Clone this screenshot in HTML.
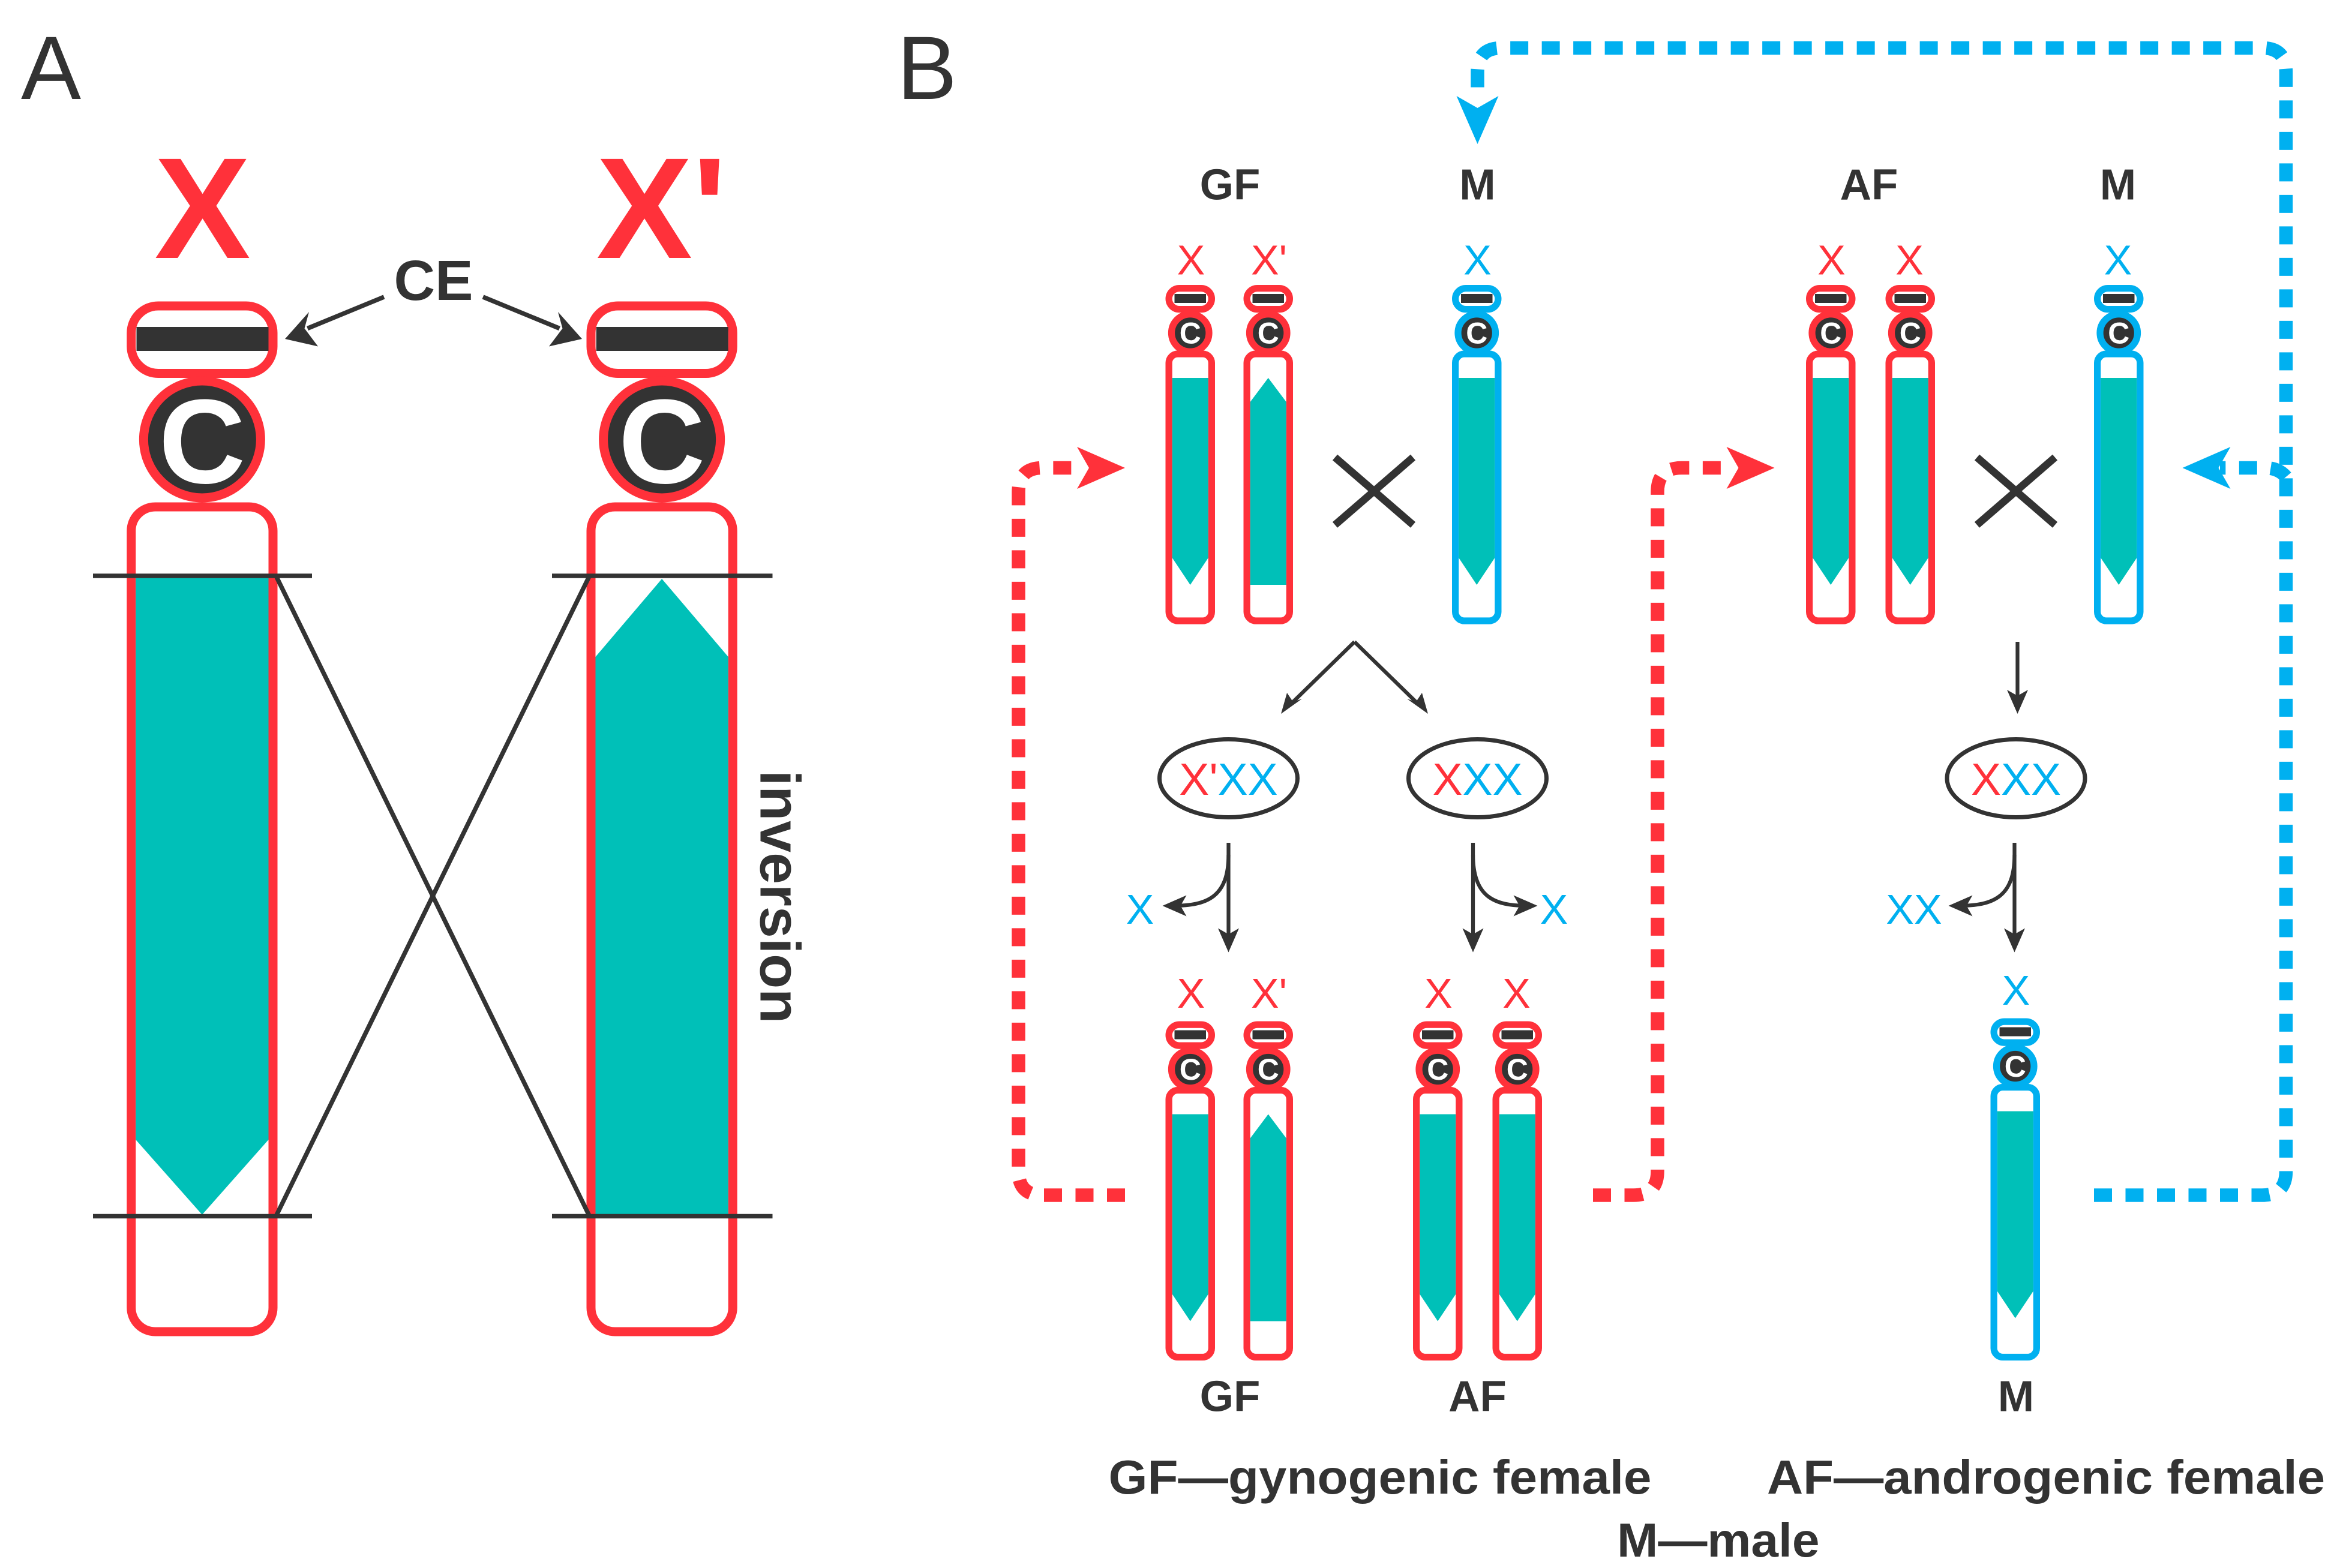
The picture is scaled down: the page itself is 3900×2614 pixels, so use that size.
<!DOCTYPE html>
<html><head><meta charset="utf-8"><style>
html,body{margin:0;padding:0;background:#fff;}
svg{display:block;}
text{font-family:"Liberation Sans",Arial,sans-serif;}
</style></head><body>
<svg width="3900" height="2614" viewBox="0 0 1560 1045.6" xmlns="http://www.w3.org/2000/svg">
<rect width="1560" height="1046" fill="#fff"/>
<!-- Panel labels -->
<text x="14" y="66" font-size="60" fill="#333">A</text>
<text x="598" y="66" font-size="60" fill="#333">B</text>

<!-- ===== Panel A ===== -->
<text x="135" y="172" font-size="96" font-weight="bold" fill="#FF313A" text-anchor="middle">X</text>
<text x="441" y="172" font-size="96" font-weight="bold" fill="#FF313A" text-anchor="middle">X'</text>
<text x="289" y="200" font-size="38" font-weight="bold" fill="#333" text-anchor="middle">CE</text>
<line x1="256" y1="198" x2="205" y2="219" stroke="#333" stroke-width="3"/>
<path d="M190,226 L206,208 L203,219 L212,231 Z" fill="#333"/>
<line x1="322" y1="198" x2="373" y2="219" stroke="#333" stroke-width="3"/>
<path d="M388,226 L372,208 L375,219 L366,231 Z" fill="#333"/>

<!-- big X -->
<rect x="87.5" y="204" width="94.5" height="45" rx="18" fill="#fff" stroke="#FF313A" stroke-width="6"/>
<rect x="91" y="218" width="88" height="16" fill="#333"/>
<rect x="87.5" y="338" width="94.5" height="550" rx="16" fill="#fff" stroke="#FF313A" stroke-width="6"/>
<polygon points="90.5,384 179,384 179,760 134.75,810 90.5,760" fill="#00C0B8"/>
<circle cx="134.75" cy="293" r="39" fill="#333" stroke="#FF313A" stroke-width="6"/>
<text x="134.75" y="322" font-size="80" font-weight="bold" fill="#fff" text-anchor="middle">C</text>
<!-- big X' -->
<rect x="394" y="204" width="94.5" height="45" rx="18" fill="#fff" stroke="#FF313A" stroke-width="6"/>
<rect x="397.5" y="218" width="88" height="16" fill="#333"/>
<rect x="394" y="338" width="94.5" height="550" rx="16" fill="#fff" stroke="#FF313A" stroke-width="6"/>
<polygon points="397,438 441.25,386 485.5,438 485.5,811 397,811" fill="#00C0B8"/>
<circle cx="441.25" cy="293" r="39" fill="#333" stroke="#FF313A" stroke-width="6"/>
<text x="441.25" y="322" font-size="80" font-weight="bold" fill="#fff" text-anchor="middle">C</text>
<!-- inversion lines -->
<g stroke="#333" stroke-width="3">
<line x1="62" y1="384" x2="208" y2="384"/>
<line x1="62" y1="811" x2="208" y2="811"/>
<line x1="368" y1="384" x2="515" y2="384"/>
<line x1="368" y1="811" x2="515" y2="811"/>
<line x1="184" y1="384" x2="393" y2="811"/>
<line x1="393" y1="384" x2="184" y2="811"/>
</g>
<text transform="translate(507,598) rotate(90)" font-size="38" font-weight="bold" fill="#333" text-anchor="middle">inversion</text>

<!-- ===== Panel B ===== -->
<g font-weight="bold" fill="#333" font-size="29" text-anchor="middle">
<text x="820" y="133">GF</text><text x="985" y="133">M</text>
<text x="1246" y="133">AF</text><text x="1412" y="133">M</text>
<text x="820" y="941">GF</text><text x="985" y="941">AF</text><text x="1344" y="941">M</text>
</g>
<g font-size="28" text-anchor="middle">
<text x="794" y="183" fill="#FF313A">X</text><text x="846" y="183" fill="#FF313A">X'</text>
<text x="985" y="183" fill="#00B0F0">X</text>
<text x="1221" y="183" fill="#FF313A">X</text><text x="1273" y="183" fill="#FF313A">X</text>
<text x="1412" y="183" fill="#00B0F0">X</text>
<text x="794" y="672" fill="#FF313A">X</text><text x="846" y="672" fill="#FF313A">X'</text>
<text x="959" y="672" fill="#FF313A">X</text><text x="1011" y="672" fill="#FF313A">X</text>
<text x="1344" y="670" fill="#00B0F0">X</text>
</g>

<!-- small chromosomes -->
<!-- template: cap, body, teal, circle -->
<g transform="translate(777,190)">
<rect x="2.25" y="2.25" width="28.5" height="14" rx="7" fill="#fff" stroke="#FF313A" stroke-width="4.5"/><rect x="6" y="6" width="21" height="6" fill="#333"/>
<rect x="2.25" y="46" width="28.5" height="178" rx="6" fill="#fff" stroke="#FF313A" stroke-width="4.5"/>
<polygon points="4.5,62 28.5,62 28.5,182 16.5,200 4.5,182" fill="#00C0B8"/>
<circle cx="16.5" cy="32" r="12.5" fill="#333" stroke="#FF313A" stroke-width="4.5"/><text x="16.5" y="39" font-size="20" font-weight="bold" fill="#fff" text-anchor="middle">C</text></g>
<g transform="translate(829,190)">
<rect x="2.25" y="2.25" width="28.5" height="14" rx="7" fill="#fff" stroke="#FF313A" stroke-width="4.5"/><rect x="6" y="6" width="21" height="6" fill="#333"/>
<rect x="2.25" y="46" width="28.5" height="178" rx="6" fill="#fff" stroke="#FF313A" stroke-width="4.5"/>
<polygon points="4.5,78 16.5,62 28.5,78 28.5,200 4.5,200" fill="#00C0B8"/>
<circle cx="16.5" cy="32" r="12.5" fill="#333" stroke="#FF313A" stroke-width="4.5"/><text x="16.5" y="39" font-size="20" font-weight="bold" fill="#fff" text-anchor="middle">C</text></g>
<g transform="translate(968,190)">
<rect x="2.25" y="2.25" width="28.5" height="14" rx="7" fill="#fff" stroke="#00B0F0" stroke-width="4.5"/><rect x="6" y="6" width="21" height="6" fill="#333"/>
<rect x="2.25" y="46" width="28.5" height="178" rx="6" fill="#fff" stroke="#00B0F0" stroke-width="4.5"/>
<polygon points="4.5,62 28.5,62 28.5,182 16.5,200 4.5,182" fill="#00C0B8"/>
<circle cx="16.5" cy="32" r="12.5" fill="#333" stroke="#00B0F0" stroke-width="4.5"/><text x="16.5" y="39" font-size="20" font-weight="bold" fill="#fff" text-anchor="middle">C</text></g>
<g transform="translate(1204,190)">
<rect x="2.25" y="2.25" width="28.5" height="14" rx="7" fill="#fff" stroke="#FF313A" stroke-width="4.5"/><rect x="6" y="6" width="21" height="6" fill="#333"/>
<rect x="2.25" y="46" width="28.5" height="178" rx="6" fill="#fff" stroke="#FF313A" stroke-width="4.5"/>
<polygon points="4.5,62 28.5,62 28.5,182 16.5,200 4.5,182" fill="#00C0B8"/>
<circle cx="16.5" cy="32" r="12.5" fill="#333" stroke="#FF313A" stroke-width="4.5"/><text x="16.5" y="39" font-size="20" font-weight="bold" fill="#fff" text-anchor="middle">C</text></g>
<g transform="translate(1257,190)">
<rect x="2.25" y="2.25" width="28.5" height="14" rx="7" fill="#fff" stroke="#FF313A" stroke-width="4.5"/><rect x="6" y="6" width="21" height="6" fill="#333"/>
<rect x="2.25" y="46" width="28.5" height="178" rx="6" fill="#fff" stroke="#FF313A" stroke-width="4.5"/>
<polygon points="4.5,62 28.5,62 28.5,182 16.5,200 4.5,182" fill="#00C0B8"/>
<circle cx="16.5" cy="32" r="12.5" fill="#333" stroke="#FF313A" stroke-width="4.5"/><text x="16.5" y="39" font-size="20" font-weight="bold" fill="#fff" text-anchor="middle">C</text></g>
<g transform="translate(1396,190)">
<rect x="2.25" y="2.25" width="28.5" height="14" rx="7" fill="#fff" stroke="#00B0F0" stroke-width="4.5"/><rect x="6" y="6" width="21" height="6" fill="#333"/>
<rect x="2.25" y="46" width="28.5" height="178" rx="6" fill="#fff" stroke="#00B0F0" stroke-width="4.5"/>
<polygon points="4.5,62 28.5,62 28.5,182 16.5,200 4.5,182" fill="#00C0B8"/>
<circle cx="16.5" cy="32" r="12.5" fill="#333" stroke="#00B0F0" stroke-width="4.5"/><text x="16.5" y="39" font-size="20" font-weight="bold" fill="#fff" text-anchor="middle">C</text></g>
<!-- bottom row -->
<g transform="translate(777,681)">
<rect x="2.25" y="2.25" width="28.5" height="14" rx="7" fill="#fff" stroke="#FF313A" stroke-width="4.5"/><rect x="6" y="6" width="21" height="6" fill="#333"/>
<rect x="2.25" y="46" width="28.5" height="178" rx="6" fill="#fff" stroke="#FF313A" stroke-width="4.5"/>
<polygon points="4.5,62 28.5,62 28.5,182 16.5,200 4.5,182" fill="#00C0B8"/>
<circle cx="16.5" cy="32" r="12.5" fill="#333" stroke="#FF313A" stroke-width="4.5"/><text x="16.5" y="39" font-size="20" font-weight="bold" fill="#fff" text-anchor="middle">C</text></g>
<g transform="translate(829,681)">
<rect x="2.25" y="2.25" width="28.5" height="14" rx="7" fill="#fff" stroke="#FF313A" stroke-width="4.5"/><rect x="6" y="6" width="21" height="6" fill="#333"/>
<rect x="2.25" y="46" width="28.5" height="178" rx="6" fill="#fff" stroke="#FF313A" stroke-width="4.5"/>
<polygon points="4.5,78 16.5,62 28.5,78 28.5,200 4.5,200" fill="#00C0B8"/>
<circle cx="16.5" cy="32" r="12.5" fill="#333" stroke="#FF313A" stroke-width="4.5"/><text x="16.5" y="39" font-size="20" font-weight="bold" fill="#fff" text-anchor="middle">C</text></g>
<g transform="translate(942,681)">
<rect x="2.25" y="2.25" width="28.5" height="14" rx="7" fill="#fff" stroke="#FF313A" stroke-width="4.5"/><rect x="6" y="6" width="21" height="6" fill="#333"/>
<rect x="2.25" y="46" width="28.5" height="178" rx="6" fill="#fff" stroke="#FF313A" stroke-width="4.5"/>
<polygon points="4.5,62 28.5,62 28.5,182 16.5,200 4.5,182" fill="#00C0B8"/>
<circle cx="16.5" cy="32" r="12.5" fill="#333" stroke="#FF313A" stroke-width="4.5"/><text x="16.5" y="39" font-size="20" font-weight="bold" fill="#fff" text-anchor="middle">C</text></g>
<g transform="translate(995,681)">
<rect x="2.25" y="2.25" width="28.5" height="14" rx="7" fill="#fff" stroke="#FF313A" stroke-width="4.5"/><rect x="6" y="6" width="21" height="6" fill="#333"/>
<rect x="2.25" y="46" width="28.5" height="178" rx="6" fill="#fff" stroke="#FF313A" stroke-width="4.5"/>
<polygon points="4.5,62 28.5,62 28.5,182 16.5,200 4.5,182" fill="#00C0B8"/>
<circle cx="16.5" cy="32" r="12.5" fill="#333" stroke="#FF313A" stroke-width="4.5"/><text x="16.5" y="39" font-size="20" font-weight="bold" fill="#fff" text-anchor="middle">C</text></g>
<g transform="translate(1327,679)">
<rect x="2.25" y="2.25" width="28.5" height="14" rx="7" fill="#fff" stroke="#00B0F0" stroke-width="4.5"/><rect x="6" y="6" width="21" height="6" fill="#333"/>
<rect x="2.25" y="46" width="28.5" height="180" rx="6" fill="#fff" stroke="#00B0F0" stroke-width="4.5"/>
<polygon points="4.5,62 28.5,62 28.5,182 16.5,200 4.5,182" fill="#00C0B8"/>
<circle cx="16.5" cy="32" r="12.5" fill="#333" stroke="#00B0F0" stroke-width="4.5"/><text x="16.5" y="39" font-size="20" font-weight="bold" fill="#fff" text-anchor="middle">C</text></g>

<!-- cross symbols -->
<g stroke="#333" stroke-width="5">
<line x1="890" y1="305" x2="942" y2="350"/><line x1="942" y1="305" x2="890" y2="350"/>
<line x1="1318" y1="305" x2="1370" y2="350"/><line x1="1370" y1="305" x2="1318" y2="350"/>
</g>

<!-- black arrows -->
<g stroke="#333" stroke-width="2.5" fill="none">
<path d="M903,428 L860,470"/><path d="M903,428 L946,470"/>
<path d="M1345,428 L1345,468"/>
<path d="M819,562 L819,626"/><path d="M819,570 C819,598 805,604 782,604"/>
<path d="M982,562 L982,626"/><path d="M982,570 C982,598 996,604 1018,604"/>
<path d="M1343,562 L1343,626"/><path d="M1343,570 C1343,598 1329,604 1306,604"/>
</g>
<g fill="#333">
<path d="M854,476 L858,462 L862,468 L868,466 Z"/>
<path d="M952,476 L938,466 L944,468 L948,462 Z"/>
<path d="M1345,476 L1338,460 L1345,464 L1352,460 Z"/>
<path d="M819,635 L812,619 L819,623 L826,619 Z"/>
<path d="M982,635 L975,619 L982,623 L989,619 Z"/>
<path d="M1343,635 L1336,619 L1343,623 L1350,619 Z"/>
<path d="M775,604 L791,597 L787,604 L791,611 Z"/>
<path d="M1025,604 L1009,597 L1013,604 L1009,611 Z"/>
<path d="M1299,604 L1315,597 L1311,604 L1315,611 Z"/>
</g>
<g font-size="28" fill="#00B0F0" text-anchor="middle">
<text x="760" y="616">X</text><text x="1036" y="616">X</text><text x="1276" y="616">XX</text>
</g>

<!-- ellipses -->
<g fill="#fff" stroke="#333" stroke-width="2.8">
<ellipse cx="819" cy="519" rx="46" ry="26"/>
<ellipse cx="985" cy="519" rx="46" ry="26"/>
<ellipse cx="1344" cy="519" rx="46" ry="26"/>
</g>
<g font-size="30" text-anchor="middle">
<text x="819" y="530"><tspan fill="#FF313A">X'</tspan><tspan fill="#00B0F0">XX</tspan></text>
<text x="985" y="530"><tspan fill="#FF313A">X</tspan><tspan fill="#00B0F0">XX</tspan></text>
<text x="1344" y="530"><tspan fill="#FF313A">X</tspan><tspan fill="#00B0F0">XX</tspan></text>
</g>

<!-- dotted connectors -->
<g fill="none" stroke-width="9" stroke-dasharray="12 9">
<path d="M750,797 L695,797 Q679,797 679,781 L679,328 Q679,312 695,312 L722,312" stroke="#FF313A"/>
<path d="M1062,797 L1089,797 Q1105,797 1105,781 L1105,328 Q1105,312 1121,312 L1155,312" stroke="#FF313A"/>
<path d="M1396,797 L1508,797 Q1524,797 1524,781 L1524,48 Q1524,32 1508,32 L1001,32 Q985,32 985,48 L985,62" stroke="#00B0F0"/>
<path d="M1524,318 Q1519,312 1510,312 L1480,312" stroke="#00B0F0"/>
</g>
<path d="M750,312 L718,298 L726,312 L718,326 Z" fill="#FF313A"/>
<path d="M1183,312 L1151,298 L1159,312 L1151,326 Z" fill="#FF313A"/>
<path d="M1455,312 L1487,298 L1479,312 L1487,326 Z" fill="#00B0F0"/>
<path d="M985,96 L971,64 L985,72 L999,64 Z" fill="#00B0F0"/>

<!-- legend -->
<g font-size="32" font-weight="bold" fill="#333">
<text x="739" y="996" textLength="362" lengthAdjust="spacingAndGlyphs">GF—gynogenic female</text>
<text x="1178" y="996" textLength="372" lengthAdjust="spacingAndGlyphs">AF—androgenic female</text>
<text x="1078" y="1038" textLength="135" lengthAdjust="spacingAndGlyphs">M—male</text>
</g>
</svg>
</body></html>
